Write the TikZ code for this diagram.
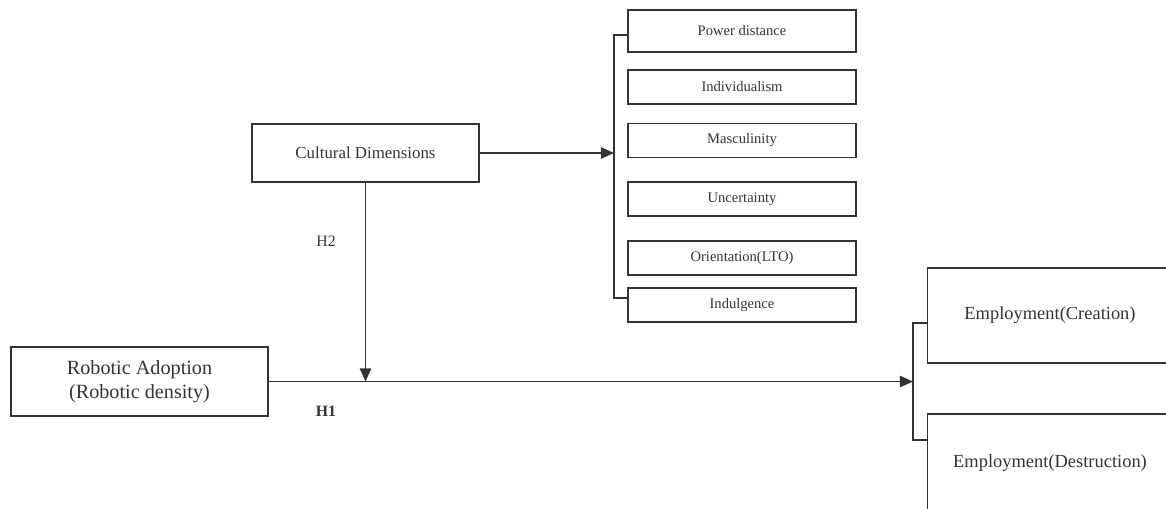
\documentclass[tikz,border=0pt]{standalone}
\usepackage{fontspec}
\setmainfont{Liberation Serif}
\usetikzlibrary{arrows.meta,positioning}
\definecolor{inkgray}{HTML}{333333}
\tikzset{
	box/.style={draw=inkgray, line width=0.9pt, align=center, text=inkgray, inner sep=2pt},
	dim/.style={box, minimum width=4.56cm, minimum height=0.68cm, font=\fontsize{8.3}{10}\selectfont},
	outcome/.style={box, minimum width=4.9cm, font=\fontsize{10.5}{12}\selectfont},
	link/.style={draw=inkgray, line width=0.8pt},
	flow/.style={link, -{Triangle[length=7.5pt, width=6.5pt]}},
	hyp/.style={text=inkgray, font=\fontsize{9}{11}\selectfont}
}

\begin{document}
\begin{tikzpicture}[x=0.02cm, y=-0.02cm]
	\clip (0,0) rectangle (1166,508);
	\node[box, minimum width=4.54cm, minimum height=1.16cm, font=\fontsize{9.6}{11}\selectfont] (cult) at (365.5,153) {Cultural Dimensions};
	\node[box, minimum width=5.14cm, minimum height=1.38cm, font=\fontsize{11.5}{13.5}\selectfont] (robot) at (139.5,381.5) {Robotic Adoption\\(Robotic density)};
	\node[dim, minimum height=0.84cm] (power) at (742,31) {Power distance};
	\node[dim] (indiv) at (742,87) {Individualism};
	\node[dim] (masc) at (742,140.5) {Masculinity};
	\node[dim] (uncert) at (742,199) {Uncertainty};
	\node[dim] (lto) at (742,258) {Orientation(LTO)};
	\node[dim] (indul) at (742,305) {Indulgence};
	\node[outcome, minimum height=1.9cm] (create) at (1050,315.5) {Employment(Creation)};
	\node[outcome, minimum height=1.96cm] (destroy) at (1050,463) {Employment(Destruction)};
	\coordinate (dimtop) at (614,35);
	\coordinate (dimbot) at (614,298);
	\coordinate (emptop) at (913,323);
	\coordinate (empbot) at (913,440);
	\draw[link] (power.west |- dimtop) -- (dimtop) -- (dimbot) -- (indul.west |- dimbot);
	\draw[link] (create.west |- emptop) -- (emptop) -- (empbot) -- (destroy.west |- empbot);
	\draw[flow] (cult.east) -- (cult.east -| dimtop);
	\draw[flow] (robot.east) -- (robot.east -| emptop);
	\draw[flow] (cult.south) -- (cult.south |- robot.east);
	\node[hyp] (h2) at (326,241) {H2};
	\node[hyp, font=\fontsize{9}{11}\selectfont\bfseries] (h1) at (326,411) {H1};
\end{tikzpicture}
\end{document}
